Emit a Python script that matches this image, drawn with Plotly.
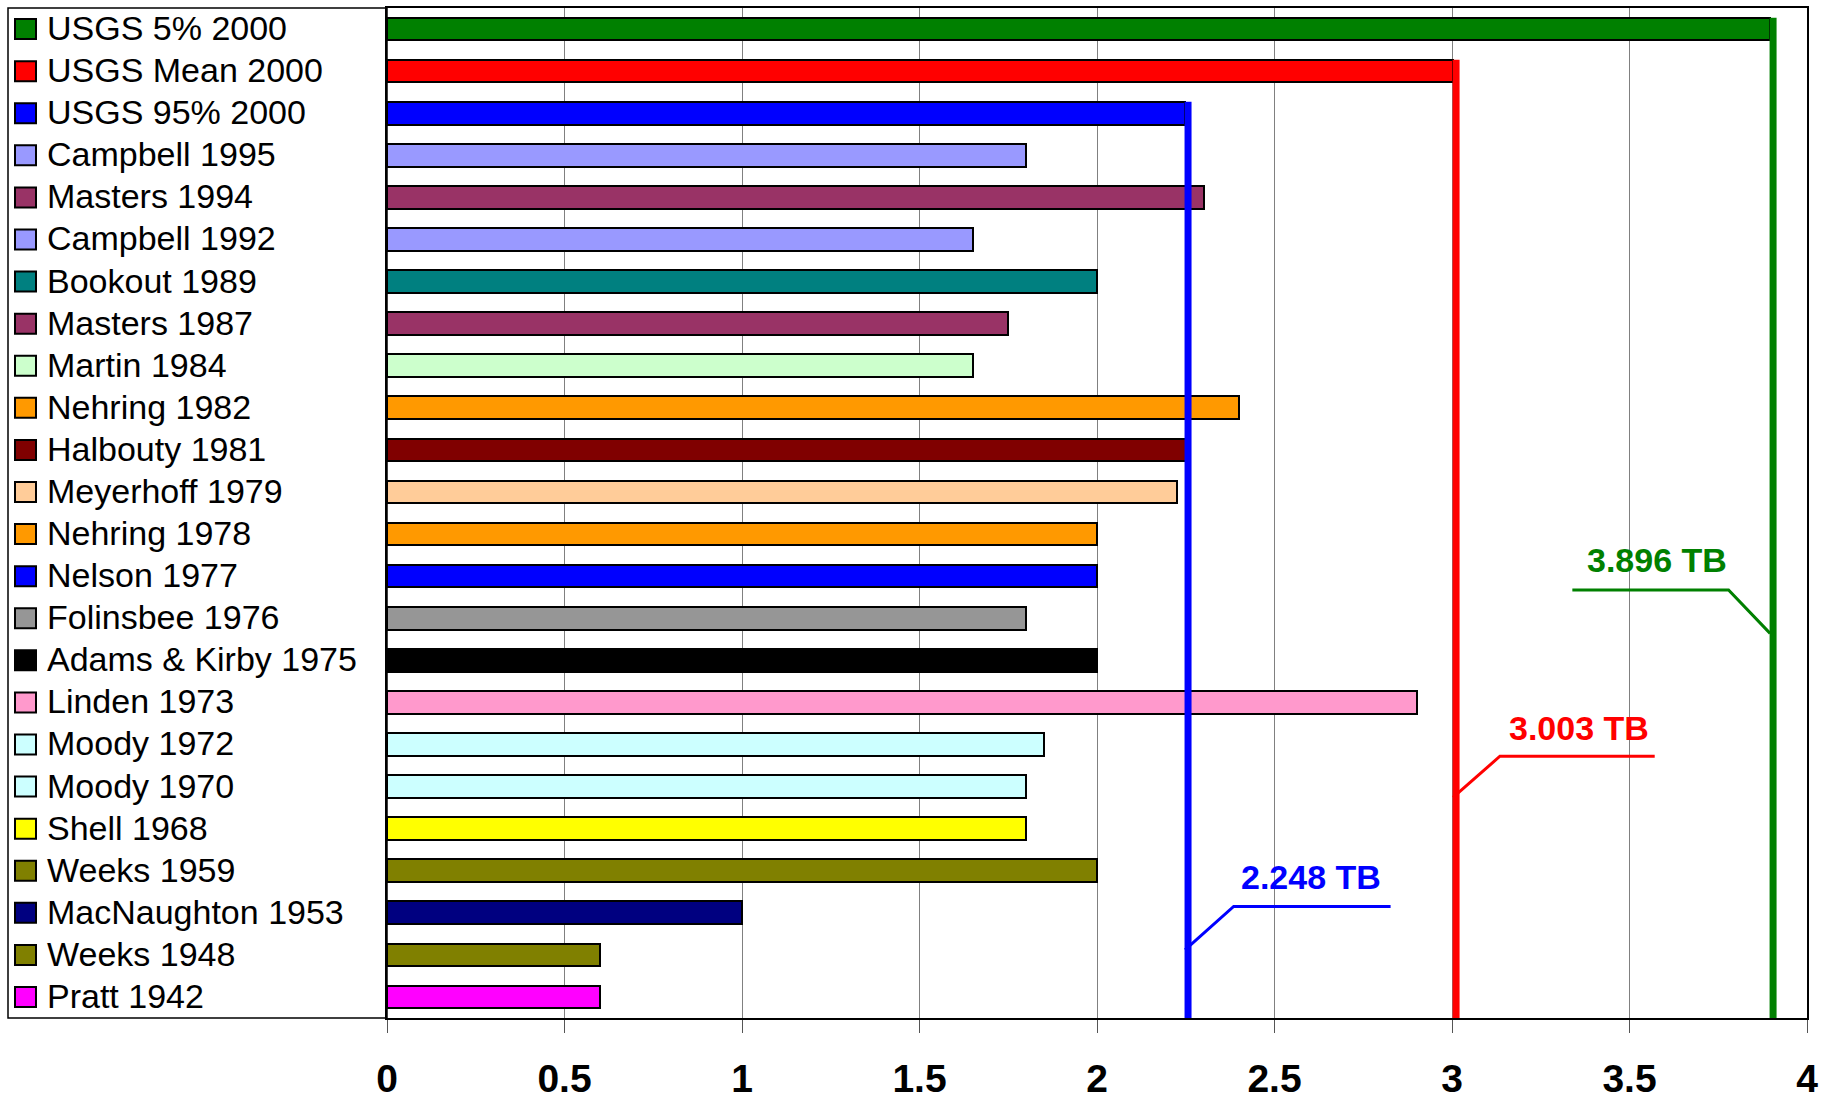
import plotly.graph_objects as go

# Estimates of ultimately recoverable world oil (trillion barrels), newest first
sources = [
    "USGS 5% 2000", "USGS Mean 2000", "USGS 95% 2000", "Campbell 1995",
    "Masters 1994", "Campbell 1992", "Bookout 1989", "Masters 1987",
    "Martin 1984", "Nehring 1982", "Halbouty 1981", "Meyerhoff 1979",
    "Nehring 1978", "Nelson 1977", "Folinsbee 1976", "Adams & Kirby 1975",
    "Linden 1973", "Moody 1972", "Moody 1970", "Shell 1968",
    "Weeks 1959", "MacNaughton 1953", "Weeks 1948", "Pratt 1942",
]
estimates_tb = [
    3.896, 3.003, 2.248, 1.8,
    2.3, 1.65, 2.0, 1.75,
    1.65, 2.4, 2.26, 2.225,
    2.0, 2.0, 1.8, 2.0,
    2.9, 1.85, 1.8, 1.8,
    2.0, 1.0, 0.6, 0.6,
]
bar_colors = [
    "#008000", "#FF0000", "#0000FF", "#9999FF",
    "#993366", "#9999FF", "#008080", "#993366",
    "#CCFFCC", "#FF9900", "#800000", "#FFCC99",
    "#FF9900", "#0000FF", "#969696", "#000000",
    "#FF99CC", "#CCFFFF", "#CCFFFF", "#FFFF00",
    "#808000", "#000080", "#808000", "#FF00FF",
]
x_ticks = [0, 0.5, 1, 1.5, 2, 2.5, 3, 3.5, 4]

# The three USGS scenarios get a drop line and a labelled callout
usgs_rows = [2, 1, 0]  # 95%, Mean, 5%

# Callout geometry: (row where leader leaves the drop line, row of the
# horizontal leader, elbow dx, end dx, text dx, text row)
callout_geom = {
    2: (21.88, 20.85, 0.137, 0.579, 0.153, 20.15),
    1: (18.26, 17.28, 0.132, 0.568, 0.151, 16.60),
    0: (14.36, 13.33, -0.117, -0.557, -0.520, 12.62),
}

W, H = 1839, 1099
ML, MR, MT, MB = 7, 32, 8, 81
plot_left_px = 387
paper_w = W - ML - MR
x_dom0 = (plot_left_px - ML) / paper_w

FONT = "Liberation Sans, Arial, sans-serif"
BAR_W = 0.54
n = len(sources)
rows = list(range(n))

fig = go.Figure()
fig.add_trace(go.Bar(
    y=rows, x=estimates_tb, orientation="h", width=BAR_W,
    marker=dict(color=bar_colors, line=dict(color="#000000", width=2)),
    hovertext=sources, hoverinfo="text+x", showlegend=False,
))

shapes = []
annotations = []

# Leader lines and value labels
for r in usgs_rows:
    v = estimates_tb[r]
    c = bar_colors[r]
    y_start, y_lvl, dx_elb, dx_end, dx_txt, y_txt = callout_geom[r]
    shapes.append(dict(type="path", xref="x", yref="y",
                       path=f"M {v},{y_start} L {v + dx_elb},{y_lvl} L {v + dx_end},{y_lvl}",
                       line=dict(color=c, width=3), layer="above"))
    annotations.append(dict(xref="x", yref="y", x=v + dx_txt, y=y_txt,
                            xanchor="left", yanchor="middle", showarrow=False,
                            text=f"{v:.3f} TB",
                            font=dict(family=FONT, size=34, color=c, weight="bold")))

# Drop lines from the end of each USGS bar down to the axis
for r in usgs_rows:
    v = estimates_tb[r]
    shapes.append(dict(type="line", xref="x", yref="y", xsizemode="pixel",
                       xanchor=v, x0=3, x1=3, y0=r - BAR_W / 2, y1=n - 0.5,
                       line=dict(color=bar_colors[r], width=7), layer="above"))

# Key panel on the left: box, swatches and names aligned with each bar
shapes.append(dict(type="rect", xref="paper", yref="paper", x0=(8 - ML) / paper_w,
                   x1=x_dom0, y0=0, y1=1, line=dict(color="#000000", width=1.5),
                   layer="below"))
for r, (name, col) in enumerate(zip(sources, bar_colors)):
    shapes.append(dict(type="rect", xref="paper", yref="y", ysizemode="pixel",
                       yanchor=r, y0=-10, y1=10,
                       x0=(15 - ML) / paper_w, x1=(36 - ML) / paper_w,
                       fillcolor=col, line=dict(color="#000000", width=2)))
    annotations.append(dict(xref="paper", yref="y", x=(45 - ML) / paper_w, y=r,
                            xanchor="left", yanchor="middle", showarrow=False,
                            yshift=1, text=name,
                            font=dict(family=FONT, size=34, color="#000000")))

fig.update_layout(
    width=W, height=H,
    margin=dict(l=ML, r=MR, t=MT, b=MB, autoexpand=False),
    paper_bgcolor="#FFFFFF", plot_bgcolor="#FFFFFF",
    bargap=0,
    shapes=shapes, annotations=annotations,
    xaxis=dict(domain=[x_dom0, 1], range=[0, 4], tickvals=x_ticks,
               ticktext=[f"{t:g}" for t in x_ticks], automargin=False,
               showgrid=True, gridcolor="#808080", gridwidth=1,
               showline=True, linecolor="#000000", linewidth=1.5, mirror=True,
               ticks="outside", ticklen=13, tickcolor="#555555", tickwidth=1,
               ticklabelstandoff=12, zeroline=False,
               tickfont=dict(family=FONT, size=39, color="#000000", weight="bold")),
    yaxis=dict(range=[n - 0.5, -0.5], showticklabels=False, showgrid=False,
               zeroline=False, showline=True, linecolor="#000000", linewidth=1.5,
               mirror=True, ticks="", automargin=False),
)

fig.write_html("out.html")
